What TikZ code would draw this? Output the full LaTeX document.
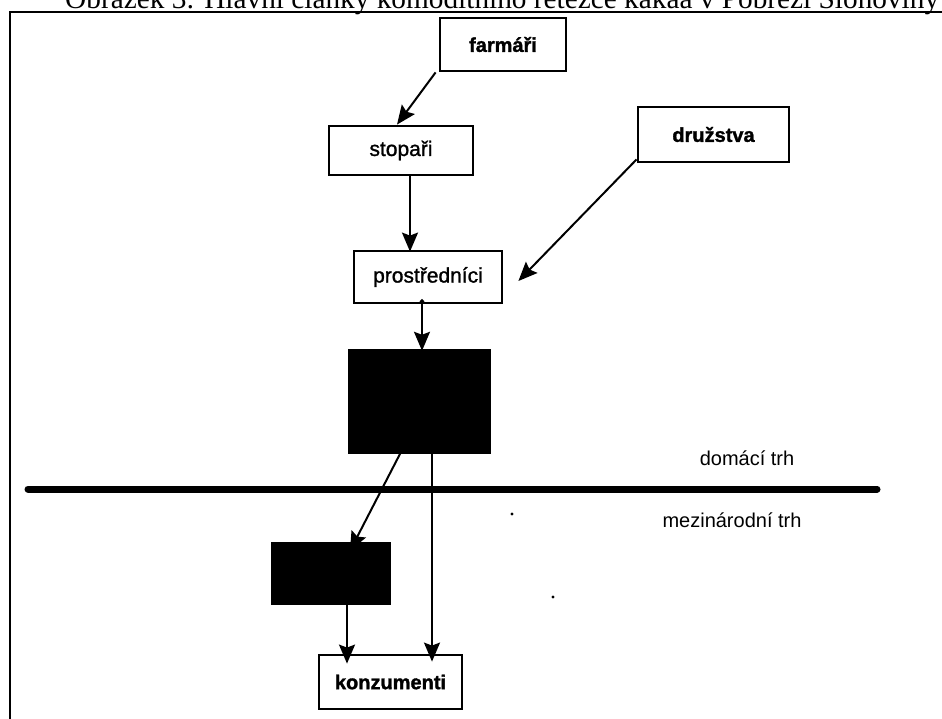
\documentclass[tikz,border=0pt]{standalone}
\usepackage{fontspec}
\setmainfont{Liberation Serif}
\newfontfamily\arial{Liberation Sans}
\newfontfamily\arialmed[FakeBold=1.2]{Liberation Sans}
\newfontfamily\arialheavy[FakeBold=1.5]{Liberation Sans Bold}
\usetikzlibrary{arrows.meta,calc}
\tikzset{
  boxnode/.style={draw=black, line width=2.8pt, fill=white, inner sep=0pt, font=\arialheavy\fontsize{20}{24}\selectfont},
  plainbox/.style={boxnode, font=\arialmed\fontsize{21}{24}\selectfont},
  blackbox/.style={draw=black, fill=black, inner sep=0pt},
  tip/.tip={Stealth[length=19pt,width=16pt,inset=3pt]},
  conn/.style={line width=2pt, -tip},
  marketlabel/.style={font=\arial\fontsize{20}{24}\selectfont, inner sep=0pt},
}
\begin{document}
\begin{tikzpicture}[x=1pt,y=-1pt]
\clip (0,0) rectangle (942,719);
\useasboundingbox (0,0) rectangle (942,719);
% title (cut off at top, as in the reference)
\node[anchor=base west, inner sep=0pt, font=\fontsize{29.3}{32}\selectfont] (title) at (65,8.5) {Obrázek 3: Hlavní články komoditního řetězce kakaa v Pobřeží Slonoviny};
% frame
\coordinate (fr1) at (10,719);
\coordinate (fr2) at (10,12);
\coordinate (fr3) at (942,12);
\draw[line width=2pt] (fr1) -- (fr2) -- (fr3);
% boxes
\node[boxnode, minimum width=126pt, minimum height=53pt] (farmari) at (503,44.5) {farmáři};
\node[plainbox, minimum width=144pt, minimum height=49pt] (stopari) at (401,150.5) {stopaři};
\node[boxnode, minimum width=151pt, minimum height=55pt] (druzstva) at (713.5,134.5) {družstva};
\node[plainbox, minimum width=148pt, minimum height=52pt] (prostrednici) at (428,277) {prostředníci};
\node[blackbox, minimum width=142pt, minimum height=104pt] (black1) at (419,401) {};
\node[blackbox, minimum width=119pt, minimum height=62pt] (black2) at (330.5,573) {};
\node[boxnode, minimum width=143pt, minimum height=54pt] (konzumenti) at (390.5,682) {konzumenti};
% market line
\coordinate (ml1) at (28,489);
\coordinate (ml2) at (877,489);
\draw[line width=7pt, line cap=round] (ml1) -- (ml2);
\node[marketlabel] (domaci) at (747,458) {domácí trh};
\node[marketlabel] (mezinar) at (732,520) {mezinárodní trh};
% stray dots
\fill (512,514) circle (1.6pt);
\fill (553,597) circle (1.6pt);
% connectors
\draw[conn] ([xshift=-3pt]farmari.south west) -- ([xshift=-4pt]stopari.north);
\draw[conn] ([xshift=9pt]stopari.south) -- ([xshift=9pt,yshift=-2pt]stopari.south |- prostrednici.north);
\draw[conn] ([yshift=4pt]druzstva.south west) -- ([xshift=15pt,yshift=-4pt]prostrednici.east);
\draw[line width=2pt, {Circle[length=4pt]}-tip] ([xshift=-6pt,yshift=5pt]prostrednici.south) -- ([xshift=3pt,yshift=-2pt]black1.north);
\draw[conn] ([xshift=-14pt,yshift=9pt]black1.south) -- ([xshift=19.5pt,yshift=-9pt]black2.north);
\draw[conn] ([xshift=13pt,yshift=9pt]black1.south) -- ([xshift=41.5pt,yshift=-8pt]konzumenti.north);
\draw[conn] ([xshift=16.5pt]black2.south) -- ([xshift=-43.5pt,yshift=-10pt]konzumenti.north);
\end{tikzpicture}
\end{document}
